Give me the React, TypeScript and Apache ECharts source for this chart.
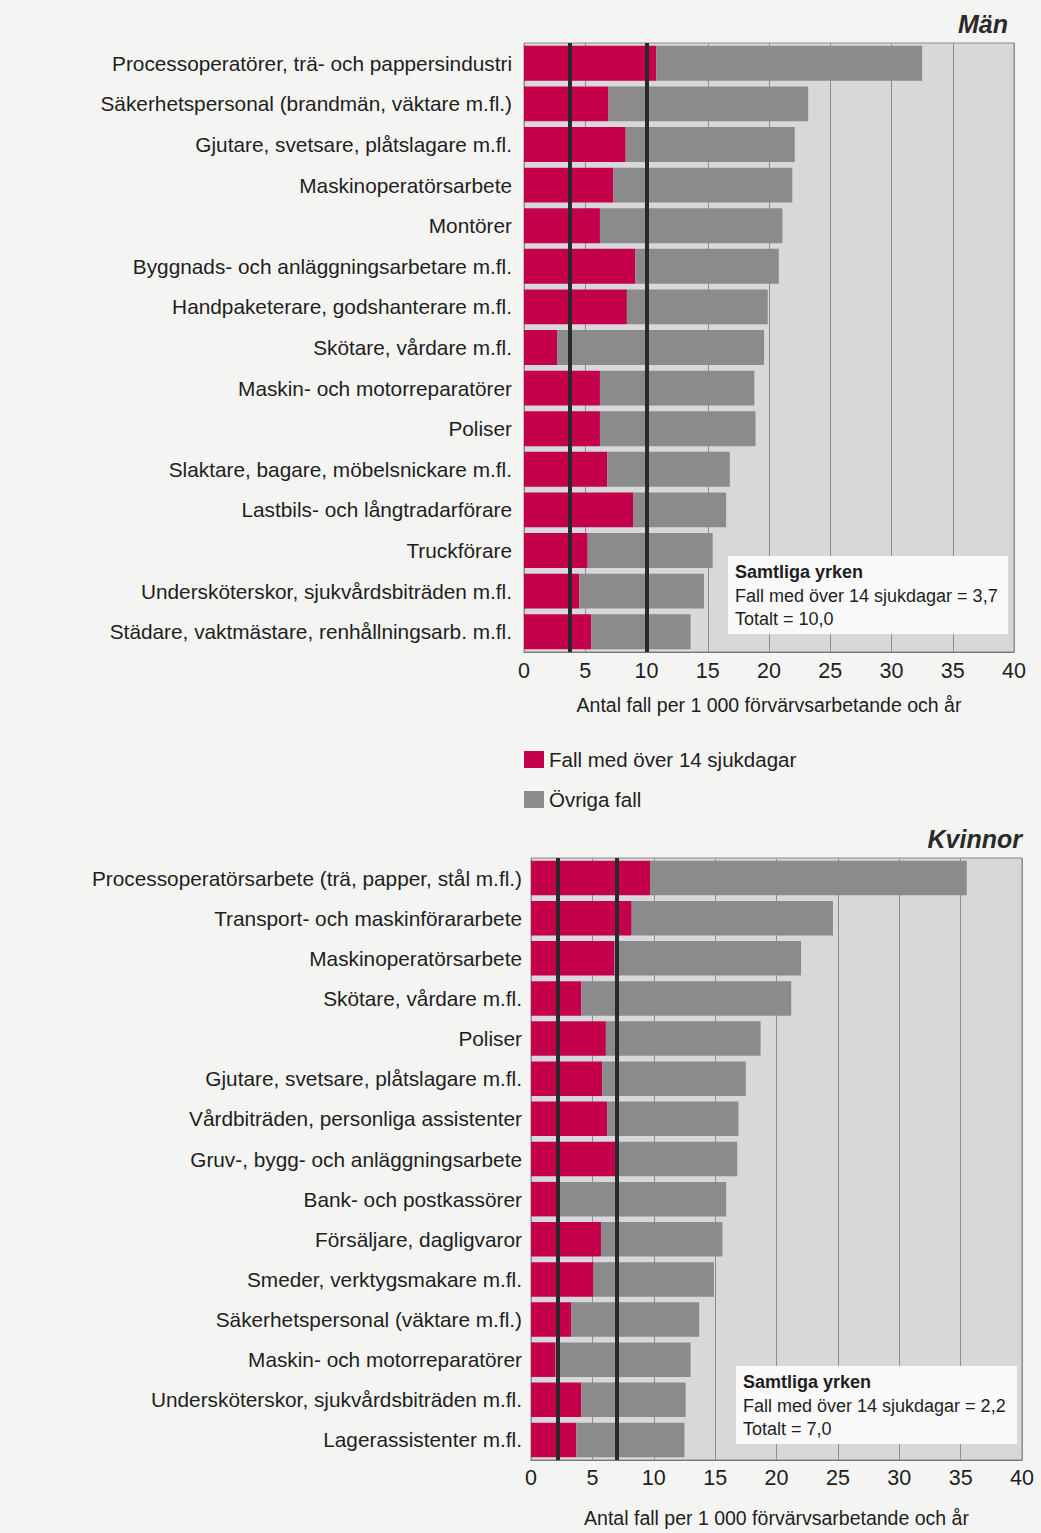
import React, { useEffect, useRef } from "react";
import * as echarts from "echarts";

// ---------- Data ----------
const menCategories = [
  "Processoperatörer, trä- och pappersindustri",
  "Säkerhetspersonal (brandmän, väktare m.fl.)",
  "Gjutare, svetsare, plåtslagare m.fl.",
  "Maskinoperatörsarbete",
  "Montörer",
  "Byggnads- och anläggningsarbetare m.fl.",
  "Handpaketerare, godshanterare m.fl.",
  "Skötare, vårdare m.fl.",
  "Maskin- och motorreparatörer",
  "Poliser",
  "Slaktare, bagare, möbelsnickare m.fl.",
  "Lastbils- och långtradarförare",
  "Truckförare",
  "Undersköterskor, sjukvårdsbiträden m.fl.",
  "Städare, vaktmästare, renhållningsarb. m.fl.",
];
const menSevere = [10.8, 6.9, 8.3, 7.3, 6.2, 9.1, 8.4, 2.7, 6.2, 6.2, 6.8, 8.9, 5.2, 4.5, 5.5];
const menOther = [21.7, 16.3, 13.8, 14.6, 14.9, 11.7, 11.5, 16.9, 12.6, 12.7, 10.0, 7.6, 10.2, 10.2, 8.1];
const menAvgSevere = 3.7;
const menAvgTotal = 10.0;

const womenCategories = [
  "Processoperatörsarbete (trä, papper, stål m.fl.)",
  "Transport- och maskinförararbete",
  "Maskinoperatörsarbete",
  "Skötare, vårdare m.fl.",
  "Poliser",
  "Gjutare, svetsare, plåtslagare m.fl.",
  "Vårdbiträden, personliga assistenter",
  "Gruv-, bygg- och anläggningsarbete",
  "Bank- och postkassörer",
  "Försäljare, dagligvaror",
  "Smeder, verktygsmakare m.fl.",
  "Säkerhetspersonal (väktare m.fl.)",
  "Maskin- och motorreparatörer",
  "Undersköterskor, sjukvårdsbiträden m.fl.",
  "Lagerassistenter m.fl.",
];
const womenSevere = [9.7, 8.2, 6.8, 4.1, 6.1, 5.8, 6.2, 6.9, 2.1, 5.7, 5.1, 3.3, 2.0, 4.1, 3.7];
const womenOther = [25.8, 16.4, 15.2, 17.1, 12.6, 11.7, 10.7, 9.9, 13.8, 9.9, 9.8, 10.4, 11.0, 8.5, 8.8];
const womenAvgSevere = 2.2;
const womenAvgTotal = 7.0;

const xTicks = { min: 0, max: 40, interval: 5 };
const seriesNames = ["Fall med över 14 sjukdagar", "Övriga fall"];
const axisTitle = "Antal fall per 1 000 förvärvsarbetande och år";
const menTitle = "Män";
const womenTitle = "Kvinnor";
const menBox = ["Samtliga yrken", "Fall med över 14 sjukdagar = 3,7", "Totalt = 10,0"];
const womenBox = ["Samtliga yrken", "Fall med över 14 sjukdagar = 2,2", "Totalt = 7,0"];

// ---------- Styles ----------
const FONT = '"Liberation Sans", Arial, Helvetica, sans-serif';
const RED = "#c4004a";
const GREY = "#8b8b8b";
const PLOT_BG = "#d8d8db";
const GRID_LINE = "#8e8e8e";
const TEXT = "#1e1e1e";
const PAGE_BG = "#f4f4f2";

function xAxisCfg(gridIndex: number, nameGap: number, labelMargin: number) {
  return {
    type: "value",
    gridIndex,
    min: xTicks.min,
    max: xTicks.max,
    interval: xTicks.interval,
    name: axisTitle,
    nameLocation: "middle",
    nameGap,
    nameTextStyle: { fontFamily: FONT, fontSize: 19.5, color: TEXT },
    axisLine: { show: true, lineStyle: { color: "#777", width: 1 } },
    axisTick: { show: false },
    axisLabel: { fontFamily: FONT, fontSize: 21.5, color: TEXT, margin: labelMargin },
    splitLine: { show: true, lineStyle: { color: GRID_LINE, width: 1 } },
  };
}

function yAxisCfg(gridIndex: number, data: string[], margin: number) {
  return {
    type: "category",
    gridIndex,
    data,
    inverse: true,
    axisLine: { show: false },
    axisTick: { show: false },
    axisLabel: { fontFamily: FONT, fontSize: 20.8, color: TEXT, margin },
    splitLine: { show: false },
  };
}

function refLine(a: number, b: number) {
  return {
    silent: true,
    symbol: ["none", "none"],
    label: { show: false },
    lineStyle: { type: "solid", color: "#2a2a2a", width: 4 },
    emphasis: { disabled: true },
    data: [{ xAxis: a }, { xAxis: b }],
  };
}

function boxGraphic(x: number, y: number, w: number, h: number, lines: string[]) {
  return {
    type: "group",
    z: 100,
    children: [
      {
        type: "rect",
        z: 100,
        shape: { x, y, width: w, height: h },
        style: { fill: "#fafafa", stroke: "none" },
      },
      ...lines.map((t, i) => ({
        type: "text",
        z: 101,
        x: x + 7,
        y: y + 16 + i * 23.5,
        style: {
          text: t,
          fill: TEXT,
          fontFamily: FONT,
          fontSize: 18,
          fontWeight: i === 0 ? "bold" : "normal",
          textVerticalAlign: "middle",
          verticalAlign: "middle",
          textAlign: "left",
          align: "left",
        },
      })),
    ],
  };
}

export default function App() {
  const ref = useRef<HTMLDivElement>(null);

  useEffect(() => {
    if (!ref.current) return;
    const chart = echarts.init(ref.current, undefined, { renderer: "svg" });

    const option = {
      animation: false,
      backgroundColor: PAGE_BG,
      grid: [
        {
          left: 524,
          right: 27,
          top: 43,
          height: 609,
          show: true,
          backgroundColor: PLOT_BG,
          borderColor: "#8a8a8a",
          borderWidth: 1,
        },
        {
          left: 531,
          right: 19,
          top: 858,
          height: 602,
          show: true,
          backgroundColor: PLOT_BG,
          borderColor: "#8a8a8a",
          borderWidth: 1,
        },
      ],
      xAxis: [xAxisCfg(0, 43, 8), xAxisCfg(1, 48, 7)],
      yAxis: [yAxisCfg(0, menCategories, 12), yAxisCfg(1, womenCategories, 9)],
      legend: {
        orient: "vertical",
        left: 519,
        top: 744,
        itemWidth: 20,
        itemHeight: 17,
        itemGap: 19,
        icon: "rect",
        data: seriesNames,
        textStyle: { fontFamily: FONT, fontSize: 20.5, color: TEXT },
        selectedMode: false,
      },
      series: [
        {
          name: seriesNames[0],
          type: "bar",
          xAxisIndex: 0,
          yAxisIndex: 0,
          stack: "men",
          data: menSevere,
          barCategoryGap: "14%",
          itemStyle: { color: RED },
        },
        {
          name: seriesNames[1],
          type: "bar",
          xAxisIndex: 0,
          yAxisIndex: 0,
          stack: "men",
          data: menOther,
          barCategoryGap: "14%",
          itemStyle: { color: GREY },
          markLine: refLine(menAvgSevere, menAvgTotal),
        },
        {
          name: seriesNames[0],
          type: "bar",
          xAxisIndex: 1,
          yAxisIndex: 1,
          stack: "women",
          data: womenSevere,
          barCategoryGap: "14%",
          itemStyle: { color: RED },
        },
        {
          name: seriesNames[1],
          type: "bar",
          xAxisIndex: 1,
          yAxisIndex: 1,
          stack: "women",
          data: womenOther,
          barCategoryGap: "14%",
          itemStyle: { color: GREY },
          markLine: refLine(womenAvgSevere, womenAvgTotal),
        },
      ],
      graphic: [
        {
          type: "text",
          z: 100,
          x: 1008,
          y: 24,
          style: {
            text: menTitle,
            fill: "#2a2a2a",
            fontFamily: FONT,
            fontSize: 25,
            fontWeight: "bold",
            fontStyle: "italic",
            textAlign: "right",
            align: "right",
            textVerticalAlign: "middle",
            verticalAlign: "middle",
          },
        },
        {
          type: "text",
          z: 100,
          x: 1022,
          y: 839,
          style: {
            text: womenTitle,
            fill: "#2a2a2a",
            fontFamily: FONT,
            fontSize: 25,
            fontWeight: "bold",
            fontStyle: "italic",
            textAlign: "right",
            align: "right",
            textVerticalAlign: "middle",
            verticalAlign: "middle",
          },
        },
        boxGraphic(728, 556, 280, 78, menBox),
        boxGraphic(736, 1366, 281, 78, womenBox),
      ],
    };

    chart.setOption(option as any);
    return () => chart.dispose();
  }, []);

  return (
    <div
      ref={ref}
      style={{ position: "absolute", left: 0, top: 0, width: 1041, height: 1533 }}
    />
  );
}
